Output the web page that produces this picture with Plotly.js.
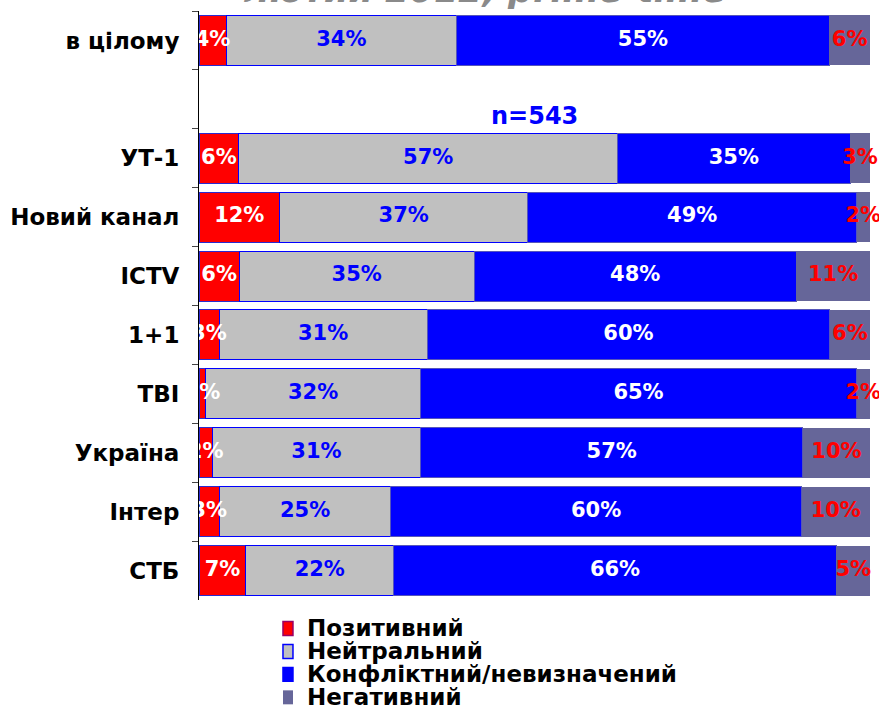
<!DOCTYPE html>
<html>
<head>
<meta charset="utf-8">
<script src="https://cdn.plot.ly/plotly-3.0.1.min.js"></script>
<style>
  html, body { margin: 0; padding: 0; background: #fff; }
  #chart { width: 879px; height: 709px; }
</style>
</head>
<body>
<div id="chart"></div>
<script>
// channels, top to bottom; the blank slot holds the "n=543" note
const channels = ['в цілому', ' ', 'УТ-1', 'Новий канал', 'ICTV', '1+1', 'ТВІ', 'Україна', 'Інтер', 'СТБ'];

// share of news items by tone, %
const positive = [4, null, 6, 12, 6, 3, 1, 2, 3, 7];
const neutral  = [34, null, 57, 37, 35, 31, 32, 31, 25, 22];
const conflict = [55, null, 35, 49, 48, 60, 65, 57, 60, 66];
const negative = [6, null, 3, 2, 11, 6, 2, 10, 10, 5];

const seriesNames = ['Позитивний', 'Нейтральний', 'Конфліктний/невизначений', 'Негативний'];
const sampleNote = 'n=543';
const topTitle = 'лютий 2012, prime-time';

const FONT = '"DejaVu Sans", Verdana, sans-serif';

const series = [
    { values: positive, fill: '#ff0000', line: '#2a2ad0', width: 1, text: '#ffffff', key: '#990066' },
    { values: neutral,  fill: '#c0c0c0', line: '#0000ff', width: 1, text: '#0000ff', key: '#0000ff' },
    { values: conflict, fill: '#0000ff', line: '#5555bb', width: 1, text: '#ffffff', key: '#0000ff' },
    { values: negative, fill: '#666699', line: '#666699', width: 0, text: '#ff0000', key: '#666699' }
];

// row totals, so the label sits in the middle of each normalised segment
const totals = channels.map((c, i) => series.reduce((s, t) => s + (t.values[i] || 0), 0));

const data = [];
const labelTraces = [];
const running = channels.map(() => 0);

series.forEach((s, k) => {
    data.push({
        type: 'bar',
        orientation: 'h',
        name: seriesNames[k],
        y: channels,
        x: s.values,
        marker: { color: s.fill, line: { color: s.line, width: s.width } },
        hoverinfo: 'skip',
        showlegend: false
    });

    const mids = s.values.map((v, i) => {
        if (v == null) return null;
        const m = (running[i] + v / 2) / totals[i] * 100;
        running[i] += v;
        return m;
    });
    labelTraces.push({
        type: 'scatter',
        mode: 'text',
        y: channels,
        x: mids,
        text: s.values.map(v => v == null ? '' : v + '%'),
        textposition: 'middle center',
        textfont: { family: FONT, size: 21, color: s.text, weight: 'bold' },
        cliponaxis: true,
        hoverinfo: 'skip',
        showlegend: false
    });
});

// hand-made legend (tighter line spacing than Plotly's own)
const legendX = 0.1235, legendW = 0.0147;
const legendRows = [629, 652, 675, 698];  // row centres in px
const plotTop = 10.5, plotH = 590;
const py = px => (plotTop + plotH - px) / plotH;

const shapes = series.map((s, k) => ({
    type: 'rect',
    xref: 'paper', yref: 'paper',
    x0: legendX, x1: legendX + legendW,
    y0: py(legendRows[k] + 7), y1: py(legendRows[k] - 7),
    fillcolor: s.fill,
    line: { color: s.key, width: s.width ? 1.5 : 0 }
}));

const legendNotes = seriesNames.map((n, k) => ({
    xref: 'paper', yref: 'paper',
    x: 0.1555, y: py(legendRows[k]),
    xanchor: 'left', yanchor: 'middle',
    text: n,
    showarrow: false,
    font: { family: FONT, size: 23, color: '#000000', weight: 'bold' }
}));

const layout = {
    width: 879,
    height: 709,
    margin: { l: 199, r: 0, t: 10.5, b: 108.5 },
    paper_bgcolor: '#ffffff',
    plot_bgcolor: '#ffffff',
    barmode: 'stack',
    barnorm: 'percent',
    bargap: 0.15,
    hovermode: false,
    showlegend: false,
    font: { family: FONT, color: '#000000' },
    xaxis: {
        // 100% lands at x = 870, the strip to the right stays free for overflowing labels
        range: [0, 100 * 680 / 671],
        visible: false,
        fixedrange: true
    },
    yaxis: {
        type: 'category',
        categoryorder: 'array',
        categoryarray: channels,
        autorange: 'reversed',
        showline: true,
        linecolor: '#000000',
        linewidth: 1,
        ticks: 'outside',
        tickson: 'boundaries',
        ticklen: 6,
        tickcolor: '#444444',
        ticklabelstandoff: 14,
        tickfont: { family: FONT, size: 23, color: '#000000', weight: 'bold' },
        showgrid: false,
        zeroline: false,
        fixedrange: true
    },
    shapes: shapes,
    annotations: [
        {
            xref: 'x', yref: 'y',
            x: 50, y: ' ',
            yshift: -17,
            text: sampleNote,
            showarrow: false,
            font: { family: FONT, size: 24, color: '#0000ff', weight: 'bold' }
        },
        {
            xref: 'paper', yref: 'paper',
            x: 0.42, y: 0.999,
            xanchor: 'center', yanchor: 'bottom',
            text: '<b><i>' + topTitle + '</i></b>',
            showarrow: false,
            font: { family: FONT, size: 35, color: '#8a8a8a' }
        }
    ].concat(legendNotes)
};

Plotly.newPlot('chart', data.concat(labelTraces), layout, { displayModeBar: false, staticPlot: true });
</script>
</body>
</html>
